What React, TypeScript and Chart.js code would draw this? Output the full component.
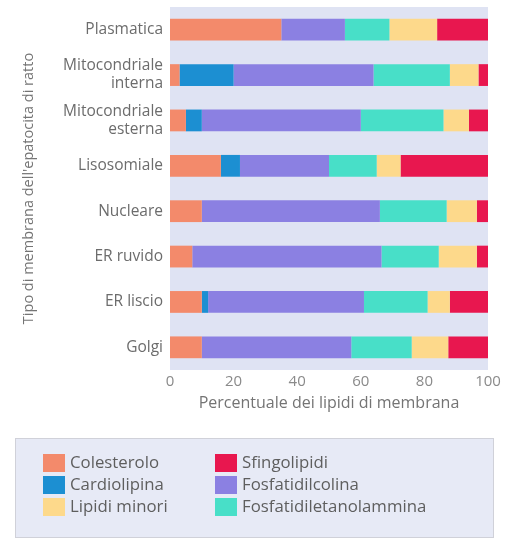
import React, { useEffect, useRef } from 'react';
import { Chart, registerables } from 'chart.js';

Chart.register(...registerables);

const categories: (string | string[])[] = [
  'Plasmatica',
  ['Mitocondriale', 'interna'],
  ['Mitocondriale', 'esterna'],
  'Lisosomiale',
  'Nucleare',
  'ER ruvido',
  'ER liscio',
  'Golgi',
];

const colesterolo = [35, 3, 5, 16, 10, 7, 10, 10];
const cardiolipina = [0, 17, 5, 6, 0, 0, 2, 0];
const fosfatidilcolina = [20, 44, 50, 28, 56, 59.5, 49, 47];
const fosfatidiletanolammina = [14, 24, 26, 15, 21, 18, 20, 19];
const lipidiMinori = [15, 9, 8, 7.5, 9.5, 12, 7, 11.5];
const sfingolipidi = [16, 3, 6, 27.5, 3.5, 3.5, 12, 12.5];

const xTicks = [0, 20, 40, 60, 80, 100];

const seriesNames = [
  'Colesterolo',
  'Cardiolipina',
  'Fosfatidilcolina',
  'Fosfatidiletanolammina',
  'Lipidi minori',
  'Sfingolipidi',
];
const seriesColors = ['#f38a6b', '#1c8fd2', '#8b80e2', '#48dfc8', '#fdd98b', '#e8174f'];
const legendOrder = [
  'Colesterolo',
  'Cardiolipina',
  'Lipidi minori',
  'Sfingolipidi',
  'Fosfatidilcolina',
  'Fosfatidiletanolammina',
];

const FONT = "'Open Sans', 'Noto Sans', sans-serif";

const plotBg = {
  id: 'plotBg',
  beforeDraw(chart: any) {
    const { ctx, chartArea } = chart;
    ctx.save();
    ctx.fillStyle = '#dfe3f3';
    ctx.fillRect(chartArea.left, chartArea.top, chartArea.right - chartArea.left, chartArea.bottom - chartArea.top);
    ctx.restore();
  },
};

const boxLegend = {
  id: 'boxLegend',
  afterDraw(chart: any) {
    const { ctx } = chart;
    const ds = chart.data.datasets;
    ctx.save();
    ctx.fillStyle = '#e7eaf6';
    ctx.strokeStyle = '#d0d1d9';
    ctx.lineWidth = 1;
    ctx.fillRect(15.5, 438.5, 478, 99);
    ctx.strokeRect(15.5, 438.5, 478, 99);
    ctx.font = `16.8px ${FONT}`;
    ctx.textBaseline = 'middle';
    ctx.textAlign = 'left';
    legendOrder.forEach((name, i) => {
      const d = ds.find((x: any) => x.label === name);
      if (!d) return;
      const col = Math.floor(i / 3);
      const row = i % 3;
      const sx = col === 0 ? 43 : 215;
      const cy = 463 + row * 22;
      ctx.fillStyle = d.backgroundColor;
      ctx.fillRect(sx, cy - 9, 22, 18);
      ctx.fillStyle = '#5e5e5e';
      ctx.fillText(name, sx + 27, cy);
    });
    ctx.restore();
  },
};

export default function App() {
  const ref = useRef<HTMLCanvasElement>(null);

  useEffect(() => {
    if (!ref.current) return;
    Chart.defaults.font.family = FONT;
    const values = [colesterolo, cardiolipina, fosfatidilcolina, fosfatidiletanolammina, lipidiMinori, sfingolipidi];
    const chart = new Chart(ref.current, {
      type: 'bar',
      data: {
        labels: categories,
        datasets: seriesNames.map((name, i) => ({
          label: name,
          data: values[i],
          backgroundColor: seriesColors[i],
          borderWidth: 0,
          categoryPercentage: 1,
          barPercentage: 0.48,
        })),
      },
      options: {
        indexAxis: 'y',
        responsive: false,
        animation: false,
        layout: { padding: { top: 7, right: 21, bottom: 109, left: 0 } },
        plugins: {
          legend: { display: false },
          tooltip: { enabled: false },
        },
        scales: {
          x: {
            stacked: true,
            min: 0,
            max: 100,
            afterBuildTicks: (scale: any) => {
              scale.ticks = xTicks.map((v) => ({ value: v }));
            },
            afterFit: (scale: any) => {
              scale.height = 60;
            },
            grid: { display: false, drawTicks: false },
            border: { display: false },
            ticks: { color: '#8a8a8a', font: { size: 15 }, padding: 3 },
            title: {
              display: true,
              text: 'Percentuale dei lipidi di membrana',
              color: '#747474',
              font: { size: 16 },
              padding: { top: 0, bottom: 17 },
            },
          },
          y: {
            stacked: true,
            afterFit: (scale: any) => {
              scale.width = 170;
              scale.paddingTop = 0;
              scale.paddingBottom = 0;
            },
            grid: { display: false, drawTicks: false },
            border: { display: false },
            ticks: { color: '#6c6c6c', font: { size: 15.5, lineHeight: 1.16 }, padding: 7 },
            title: {
              display: true,
              text: "Tipo di membrana dell'epatocita di ratto",
              color: '#747474',
              font: { size: 14.5 },
              padding: { top: 20, bottom: 0 },
            },
          },
        },
      },
      plugins: [plotBg, boxLegend],
    });
    return () => chart.destroy();
  }, []);

  return (
    <div style={{ position: 'absolute', left: 0, top: 0, width: 509, height: 539, background: '#fff' }}>
      <canvas ref={ref} width={509} height={539} style={{ display: 'block' }} />
    </div>
  );
}
